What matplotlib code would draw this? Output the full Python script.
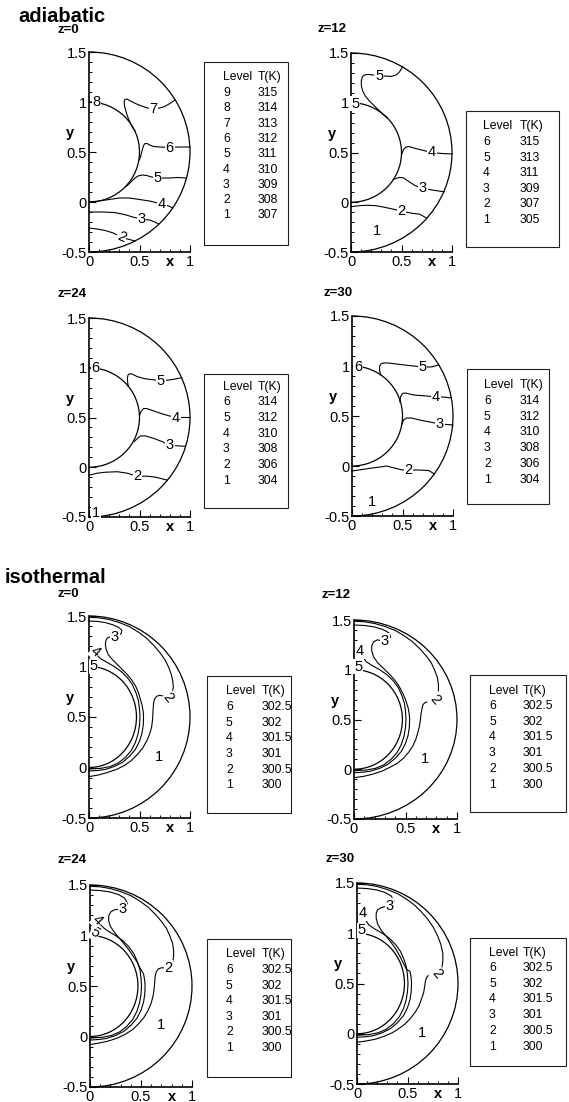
#!/usr/bin/env python3
import matplotlib
matplotlib.use('Agg')
import matplotlib.pyplot as plt
from matplotlib.patches import Arc, Rectangle
from matplotlib.ticker import MultipleLocator, FuncFormatter

plt.rcParams['font.family'] = ['Liberation Sans', 'DejaVu Sans']
plt.rcParams['axes.unicode_minus'] = False

W, H = 569, 1102

# ---------------- data ----------------
# contour lines as (x, y) points, labels as (x, y, text, rotation)

# adiabatic, z=0
adi0_lines = [
    [(0.85, 1.02), (0.80, 0.985), (0.75, 0.955), (0.70, 0.94), (0.64, 0.93), (0.58, 0.94), (0.52, 0.96),
     (0.46, 0.985), (0.41, 1.01), (0.375, 1.03), (0.355, 1.025), (0.348, 1.00), (0.352, 0.96), (0.365, 0.91),
     (0.38, 0.86), (0.40, 0.81), (0.42, 0.765), (0.44, 0.73), (0.455, 0.71)],
    [(0.999, 0.55), (0.90, 0.55), (0.80, 0.545), (0.70, 0.55), (0.64, 0.555), (0.60, 0.57), (0.575, 0.585),
     (0.555, 0.585), (0.54, 0.565), (0.53, 0.53), (0.52, 0.49), (0.51, 0.45), (0.497, 0.42)],
    [(0.965, 0.24), (0.88, 0.245), (0.80, 0.24), (0.68, 0.24), (0.62, 0.25), (0.57, 0.265), (0.53, 0.27),
     (0.49, 0.262), (0.455, 0.24), (0.425, 0.21), (0.395, 0.18), (0.36, 0.15)],
    [(0.0, 0.0), (0.10, 0.01), (0.20, 0.025), (0.30, 0.04), (0.40, 0.04), (0.50, 0.025), (0.60, 0.01),
     (0.72, -0.02), (0.79, -0.04), (0.83, -0.06)],
    [(0.0, -0.10), (0.12, -0.10), (0.25, -0.105), (0.35, -0.125), (0.45, -0.155), (0.52, -0.17),
     (0.60, -0.18), (0.65, -0.20), (0.69, -0.22)],
    [(0.0, -0.26), (0.08, -0.27), (0.16, -0.285), (0.24, -0.31), (0.32, -0.35), (0.38, -0.37), (0.456, -0.39)],
]
adi0_labels = [(0.64, 0.93, '7', 0), (0.80, 0.545, '6', 0), (0.68, 0.24, '5', 0), (0.72, -0.02, '4', 0),
               (0.52, -0.17, '3', 0), (0.32, -0.35, '2', -25), (0.075, 1.0, '8', 0)]
adi0_level = ['9', '8', '7', '6', '5', '4', '3', '2', '1']
adi0_T = ['315', '314', '313', '312', '311', '310', '309', '308', '307']

# adiabatic, z=12
adi12_lines = [
    [(0.51, 1.36), (0.48, 1.31), (0.45, 1.28), (0.40, 1.265), (0.34, 1.268), (0.28, 1.27), (0.22, 1.278),
     (0.17, 1.285), (0.135, 1.28), (0.112, 1.26), (0.102, 1.22), (0.103, 1.17), (0.115, 1.12), (0.14, 1.07),
     (0.18, 1.02), (0.23, 0.97), (0.28, 0.92), (0.32, 0.88), (0.356, 0.85)],
    [(1.0, 0.485), (0.90, 0.49), (0.80, 0.50), (0.72, 0.52), (0.64, 0.54), (0.575, 0.56), (0.545, 0.555),
     (0.52, 0.53), (0.505, 0.49)],
    [(0.92, 0.106), (0.82, 0.12), (0.71, 0.14), (0.63, 0.17), (0.57, 0.21), (0.52, 0.245), (0.48, 0.25),
     (0.45, 0.24), (0.42, 0.23)],
    [(0.0, -0.045), (0.08, -0.035), (0.16, -0.03), (0.25, -0.035), (0.33, -0.05), (0.42, -0.07),
     (0.50, -0.09), (0.60, -0.11), (0.68, -0.12), (0.75, -0.16)],
]
adi12_labels = [(0.28, 1.27, '5', 0), (0.80, 0.50, '4', 0), (0.71, 0.14, '3', 0), (0.50, -0.09, '2', 0),
                (0.04, 0.99, '5', 0), (0.26, -0.29, '1', 0)]
adi12_level = ['6', '5', '4', '3', '2', '1']
adi12_T = ['315', '313', '311', '309', '307', '305']

# adiabatic, z=24
adi24_lines = [
    [(0.917, 0.90), (0.82, 0.88), (0.71, 0.87), (0.63, 0.88), (0.55, 0.89), (0.48, 0.91), (0.43, 0.935),
     (0.40, 0.94), (0.385, 0.925), (0.38, 0.89), (0.383, 0.85), (0.39, 0.81)],
    [(1.0, 0.50), (0.93, 0.50), (0.86, 0.50), (0.78, 0.52), (0.70, 0.545), (0.63, 0.57), (0.57, 0.59),
     (0.54, 0.59), (0.515, 0.56), (0.50, 0.52)],
    [(0.955, 0.21), (0.88, 0.215), (0.80, 0.22), (0.72, 0.26), (0.64, 0.29), (0.56, 0.315), (0.51, 0.315),
     (0.48, 0.29), (0.45, 0.26)],
    [(0.0, -0.08), (0.08, -0.06), (0.16, -0.05), (0.28, -0.045), (0.38, -0.06), (0.48, -0.09),
     (0.58, -0.09), (0.66, -0.10), (0.777, -0.13)],
]
adi24_labels = [(0.71, 0.87, '5', 0), (0.86, 0.50, '4', 0), (0.80, 0.22, '3', 0), (0.48, -0.09, '2', 0),
                (0.066, 1.0, '6', 0), (0.07, -0.46, '1', 0)]
adi24_level = ['6', '5', '4', '3', '2', '1']
adi24_T = ['314', '312', '310', '308', '306', '304']

# adiabatic, z=30
adi30_lines = [
    [(0.86, 1.01), (0.78, 0.99), (0.70, 0.99), (0.61, 1.00), (0.52, 1.01), (0.44, 1.02), (0.36, 1.03),
     (0.31, 1.03), (0.285, 1.02), (0.272, 0.995), (0.274, 0.95), (0.285, 0.91)],
    [(0.98, 0.68), (0.91, 0.69), (0.83, 0.69), (0.74, 0.70), (0.61, 0.71), (0.53, 0.73), (0.50, 0.725),
     (0.48, 0.69), (0.475, 0.64)],
    [(1.0, 0.41), (0.94, 0.415), (0.87, 0.42), (0.77, 0.44), (0.67, 0.46), (0.59, 0.48), (0.54, 0.48),
     (0.51, 0.46), (0.495, 0.42)],
    [(0.0, -0.05), (0.10, -0.035), (0.20, -0.02), (0.28, -0.01), (0.34, 0.0), (0.42, -0.02), (0.50, -0.04),
     (0.56, -0.04), (0.66, -0.04), (0.76, -0.045), (0.815, -0.08)],
]
adi30_labels = [(0.70, 0.99, '5', 0), (0.83, 0.69, '4', 0), (0.87, 0.42, '3', 0), (0.56, -0.04, '2', 0),
                (0.06, 0.99, '6', 0), (0.20, -0.36, '1', 0)]
adi30_level = ['6', '5', '4', '3', '2', '1']
adi30_T = ['314', '312', '310', '308', '306', '304']

# isothermal: lower parts of levels 4 and 3, alike in all four panels
iso_c4_low = [(0.465, 0.74), (0.49, 0.66), (0.50, 0.58), (0.505, 0.50), (0.50, 0.42), (0.485, 0.33),
              (0.46, 0.25), (0.42, 0.17), (0.36, 0.10), (0.29, 0.045), (0.21, 0.01), (0.12, -0.008),
              (0.0, -0.015)]
iso_c3_low = [(0.525, 0.62), (0.537, 0.55), (0.54, 0.50), (0.537, 0.42), (0.525, 0.34), (0.50, 0.26),
              (0.46, 0.18), (0.40, 0.11), (0.33, 0.05), (0.25, 0.01), (0.16, -0.02), (0.08, -0.03),
              (0.0, -0.035)]

# isothermal, z=0
iso0_c4 = [(0.05, 1.14), (0.08, 1.11), (0.12, 1.075), (0.18, 1.04), (0.25, 1.0), (0.32, 0.95), (0.38, 0.89),
           (0.43, 0.82)]
iso0_c3 = [(0.0, 1.45), (0.08, 1.447), (0.16, 1.435), (0.23, 1.415), (0.29, 1.39), (0.325, 1.36),
           (0.32, 1.33), (0.29, 1.305), (0.255, 1.29), (0.215, 1.295), (0.185, 1.285), (0.168, 1.26),
           (0.162, 1.22), (0.17, 1.17), (0.19, 1.12), (0.23, 1.07), (0.28, 1.02), (0.33, 0.97), (0.38, 0.92),
           (0.42, 0.87), (0.46, 0.81), (0.49, 0.74)]
iso0_c2 = [(0.0, 1.487), (0.1, 1.482), (0.2, 1.465), (0.3, 1.435), (0.4, 1.395), (0.49, 1.34), (0.57, 1.28),
           (0.64, 1.21), (0.70, 1.14), (0.75, 1.07), (0.79, 0.99), (0.815, 0.92), (0.83, 0.85), (0.835, 0.79),
           (0.82, 0.735), (0.785, 0.69), (0.74, 0.705), (0.70, 0.715), (0.67, 0.705), (0.65, 0.68),
           (0.64, 0.64), (0.635, 0.58), (0.63, 0.48), (0.62, 0.40), (0.60, 0.33), (0.57, 0.26), (0.53, 0.19),
           (0.48, 0.13), (0.42, 0.07), (0.35, 0.02), (0.27, -0.02), (0.18, -0.05), (0.09, -0.075), (0.0, -0.09)]
iso0_labels = [(0.043, 1.0, '5', 0), (0.066, 1.15, '4', -40), (0.255, 1.29, '3', 0), (0.785, 0.69, '2', -50),
               (0.69, 0.107, '1', 0)]

# isothermal, z=12
iso12_c4 = [(0.06, 1.19), (0.085, 1.13), (0.12, 1.08), (0.18, 1.04), (0.25, 1.0), (0.32, 0.95), (0.38, 0.89),
            (0.43, 0.82)]
iso12_c3 = [(0.0, 1.45), (0.1, 1.445), (0.2, 1.43), (0.28, 1.405), (0.34, 1.37), (0.355, 1.33), (0.33, 1.30),
            (0.30, 1.29), (0.26, 1.295), (0.225, 1.30), (0.19, 1.28), (0.172, 1.24), (0.172, 1.19),
            (0.19, 1.13), (0.23, 1.07), (0.29, 1.01), (0.35, 0.95), (0.40, 0.89), (0.44, 0.83), (0.475, 0.76),
            (0.50, 0.70)]
iso12_c2 = [(0.0, 1.487), (0.1, 1.482), (0.2, 1.465), (0.3, 1.435), (0.4, 1.395), (0.49, 1.34), (0.57, 1.28),
            (0.64, 1.21), (0.70, 1.14), (0.75, 1.07), (0.785, 0.99), (0.81, 0.92), (0.82, 0.85), (0.82, 0.79),
            (0.81, 0.74), (0.79, 0.70), (0.75, 0.685), (0.72, 0.68), (0.69, 0.67), (0.67, 0.65), (0.66, 0.61),
            (0.65, 0.55), (0.645, 0.50), (0.635, 0.43), (0.62, 0.37), (0.60, 0.30), (0.57, 0.23), (0.53, 0.17),
            (0.48, 0.11), (0.42, 0.06), (0.35, 0.02), (0.27, -0.02), (0.18, -0.05), (0.09, -0.072),
            (0.0, -0.085)]
iso12_labels = [(0.04, 1.03, '5', 0), (0.06, 1.19, '4', 0), (0.30, 1.29, '3', 0), (0.79, 0.70, '2', -50),
                (0.69, 0.10, '1', 0)]

# isothermal, z=24
iso24_c4 = [(0.075, 1.15), (0.10, 1.11), (0.14, 1.07), (0.19, 1.035), (0.25, 1.0), (0.32, 0.95), (0.38, 0.89),
            (0.43, 0.82)]
iso24_c3 = [(0.0, 1.45), (0.1, 1.445), (0.2, 1.43), (0.28, 1.405), (0.34, 1.37), (0.365, 1.32), (0.35, 1.28),
            (0.32, 1.26), (0.28, 1.26), (0.24, 1.255), (0.205, 1.235), (0.185, 1.20), (0.182, 1.15),
            (0.20, 1.09), (0.24, 1.03), (0.29, 0.97), (0.34, 0.91), (0.38, 0.86), (0.42, 0.80), (0.46, 0.74),
            (0.495, 0.67)]
iso24_c2 = [(0.0, 1.487), (0.1, 1.482), (0.2, 1.465), (0.3, 1.435), (0.4, 1.395), (0.49, 1.34), (0.57, 1.28),
            (0.64, 1.21), (0.70, 1.14), (0.75, 1.07), (0.785, 0.99), (0.81, 0.92), (0.82, 0.85), (0.82, 0.79),
            (0.81, 0.74), (0.79, 0.70), (0.77, 0.68), (0.73, 0.68), (0.70, 0.68), (0.67, 0.67), (0.65, 0.64),
            (0.64, 0.60), (0.635, 0.55), (0.63, 0.48), (0.62, 0.41), (0.60, 0.33), (0.57, 0.26), (0.53, 0.19),
            (0.48, 0.13), (0.42, 0.07), (0.35, 0.025), (0.27, -0.015), (0.18, -0.045), (0.09, -0.065),
            (0.0, -0.08)]
iso24_labels = [(0.05, 1.03, '5', -30), (0.075, 1.15, '4', -45), (0.32, 1.26, '3', 0), (0.77, 0.68, '2', 0),
                (0.70, 0.11, '1', 0)]

# isothermal, z=30
iso30_c4 = [(0.056, 1.20), (0.085, 1.13), (0.12, 1.08), (0.18, 1.04), (0.25, 1.0), (0.32, 0.95), (0.38, 0.89),
            (0.43, 0.82)]
iso30_c3 = [(0.0, 1.45), (0.1, 1.445), (0.2, 1.43), (0.28, 1.405), (0.34, 1.37), (0.365, 1.32), (0.35, 1.285),
            (0.32, 1.27), (0.28, 1.265), (0.24, 1.255), (0.205, 1.235), (0.19, 1.20), (0.19, 1.15),
            (0.205, 1.09), (0.24, 1.03), (0.29, 0.97), (0.34, 0.905), (0.38, 0.85), (0.42, 0.78),
            (0.455, 0.71), (0.49, 0.64)]
iso30_c2 = [(0.0, 1.487), (0.1, 1.482), (0.2, 1.465), (0.3, 1.435), (0.4, 1.395), (0.49, 1.34), (0.57, 1.28),
            (0.64, 1.21), (0.70, 1.14), (0.755, 1.06), (0.80, 0.97), (0.83, 0.89), (0.85, 0.80), (0.85, 0.72),
            (0.84, 0.66), (0.82, 0.62), (0.795, 0.595), (0.76, 0.59), (0.73, 0.59), (0.70, 0.575),
            (0.685, 0.55), (0.675, 0.51), (0.67, 0.47), (0.66, 0.41), (0.64, 0.35), (0.615, 0.28), (0.58, 0.22),
            (0.535, 0.16), (0.48, 0.10), (0.42, 0.055), (0.35, 0.01), (0.27, -0.025), (0.18, -0.055),
            (0.09, -0.072), (0.0, -0.085)]
iso30_labels = [(0.046, 1.03, '5', 0), (0.056, 1.20, '4', 0), (0.32, 1.27, '3', 0), (0.795, 0.595, '2', -50),
                (0.64, 0.01, '1', 0)]

iso_level = ['6', '5', '4', '3', '2', '1']
iso_T = ['302.5', '302', '301.5', '301', '300.5', '300']

iso0_lines = [iso0_c4 + iso_c4_low, iso0_c3 + iso_c3_low, iso0_c2]
iso12_lines = [iso12_c4 + iso_c4_low, iso12_c3 + iso_c3_low, iso12_c2]
iso24_lines = [iso24_c4 + iso_c4_low, iso24_c3 + iso_c3_low, iso24_c2]
iso30_lines = [iso30_c4 + iso_c4_low, iso30_c3 + iso_c3_low, iso30_c2]

# panel boxes in pixels: x(0), x(1), y(1.5), y(-0.5); inner = width of the inner curve
panels = [
    dict(box=(89, 190, 52, 252), lines=adi0_lines, labels=adi0_labels, inner=1.0, z='z=0', zpos=(58, 33),
         leg=(204, 288, 62, 245), leg_txt=(223, 258, 77, 93, 15.3), level=adi0_level, T=adi0_T),
    dict(box=(351, 452, 53, 252), lines=adi12_lines, labels=adi12_labels, inner=1.0, z='z=12', zpos=(317, 32),
         leg=(466, 559, 111, 247), leg_txt=(483, 520, 126, 142, 15.6), level=adi12_level, T=adi12_T),
    dict(box=(89, 190, 318, 517), lines=adi24_lines, labels=adi24_labels, inner=1.0, z='z=24', zpos=(57, 297),
         leg=(204, 288, 374, 508), leg_txt=(223, 258, 387, 402, 15.8), level=adi24_level, T=adi24_T),
    dict(box=(352, 453, 316, 516), lines=adi30_lines, labels=adi30_labels, inner=1.0, z='z=30', zpos=(323, 296),
         leg=(467, 549, 369, 504), leg_txt=(484, 520, 385, 401, 15.7), level=adi30_level, T=adi30_T),
    dict(box=(89, 190, 616, 818), lines=iso0_lines, labels=iso0_labels, inner=0.94, z='z=0', zpos=(58, 597),
         leg=(207, 291, 676, 813), leg_txt=(226, 262, 691, 707, 15.7), level=iso_level, T=iso_T),
    dict(box=(354, 457, 620, 819), lines=iso12_lines, labels=iso12_labels, inner=0.94, z='z=12', zpos=(322, 598),
         leg=(470, 566, 675, 812), leg_txt=(489, 523, 691, 706, 15.7), level=iso_level, T=iso_T),
    dict(box=(90, 192, 885, 1087), lines=iso24_lines, labels=iso24_labels, inner=0.94, z='z=24', zpos=(57, 863),
         leg=(207, 291, 939, 1077), leg_txt=(226, 262, 954, 970, 15.6), level=iso_level, T=iso_T),
    dict(box=(357, 458, 883, 1084), lines=iso30_lines, labels=iso30_labels, inner=0.94, z='z=30', zpos=(326, 862),
         leg=(470, 566, 938, 1066), leg_txt=(489, 523, 953, 968, 15.7), level=iso_level, T=iso_T),
]

fig = plt.figure(figsize=(W / 100, H / 100), dpi=100)


def ftext(x, y, s, **kw):
    fig.text(x / W, 1 - y / H, s, **kw)


ftext(18, 22, 'adiabatic', fontsize=14.5, fontweight='bold', va='baseline')
ftext(5, 583, 'isothermal', fontsize=14.5, fontweight='bold', va='baseline')

fmt = FuncFormatter(lambda v, p: '%g' % v)
LEG_FS = 8.8

for p in panels:
    x0, x1, yt, yb = p['box']
    ax = fig.add_axes([x0 / W, 1 - yb / H, (x1 - x0) / W, (yb - yt) / H])
    ax.set_xlim(0, 1)
    ax.set_ylim(-0.5, 1.5)
    ax.patch.set_alpha(0)
    for s in ['top', 'right']:
        ax.spines[s].set_visible(False)
    for s in ['left', 'bottom']:
        ax.spines[s].set_linewidth(1.2)
    ax.xaxis.set_major_locator(MultipleLocator(0.5))
    ax.xaxis.set_minor_locator(MultipleLocator(0.1))
    ax.yaxis.set_major_locator(MultipleLocator(0.5))
    ax.yaxis.set_minor_locator(MultipleLocator(0.1))
    ax.xaxis.set_major_formatter(fmt)
    ax.yaxis.set_major_formatter(fmt)
    ax.tick_params(which='major', direction='in', length=5, width=0.8, labelsize=10.5, pad=1.5)
    ax.tick_params(which='minor', direction='in', length=2.5, width=0.7)
    ax.tick_params(axis='x', which='major', pad=2)

    # outer and inner walls
    ax.add_patch(Arc((0, 0.5), 2, 2, theta1=-90, theta2=90, lw=0.9, color='black', clip_on=False))
    ax.add_patch(Arc((0, 0.5), p['inner'], 1, theta1=-90, theta2=90, lw=0.9, color='black', clip_on=False))
    for line in p['lines']:
        xs = [pt[0] for pt in line]
        ys = [pt[1] for pt in line]
        ax.plot(xs, ys, color='black', lw=0.8, clip_on=False, solid_joinstyle='round')
    for (lx, ly, s, rot) in p['labels']:
        ax.text(lx, ly, s, ha='center', va='center', fontsize=10.5, rotation=rot, zorder=5,
                bbox=dict(boxstyle='square,pad=0.05', fc='white', ec='none'))

    # axis names
    ftext(x0 + 0.8 * (x1 - x0), yb + 10, 'x', fontsize=10.5, fontweight='bold', ha='center', va='center')
    ftext(x0 - 19, yt + 0.405 * (yb - yt), 'y', fontsize=10.5, fontweight='bold', ha='center', va='center')
    ftext(p['zpos'][0], p['zpos'][1], p['z'], fontsize=9.5, fontweight='bold', va='baseline')

    # level table
    lx0, lx1, lyt, lyb = p['leg']
    fig.patches.append(Rectangle((lx0 / W, 1 - lyb / H), (lx1 - lx0) / W, (lyb - lyt) / H,
                                 transform=fig.transFigure, fill=False, lw=0.8, ec='#222222'))
    c1, c2, hy, ry, dy = p['leg_txt']
    ftext(c1, hy, 'Level', fontsize=LEG_FS, va='center')
    ftext(c2, hy, 'T(K)', fontsize=LEG_FS, va='center')
    for i, (lv, t) in enumerate(zip(p['level'], p['T'])):
        ftext(c1, ry + i * dy, lv, fontsize=LEG_FS, va='center')
        ftext(c2, ry + i * dy, t, fontsize=LEG_FS, va='center')

fig.savefig('out.png', dpi=100)
